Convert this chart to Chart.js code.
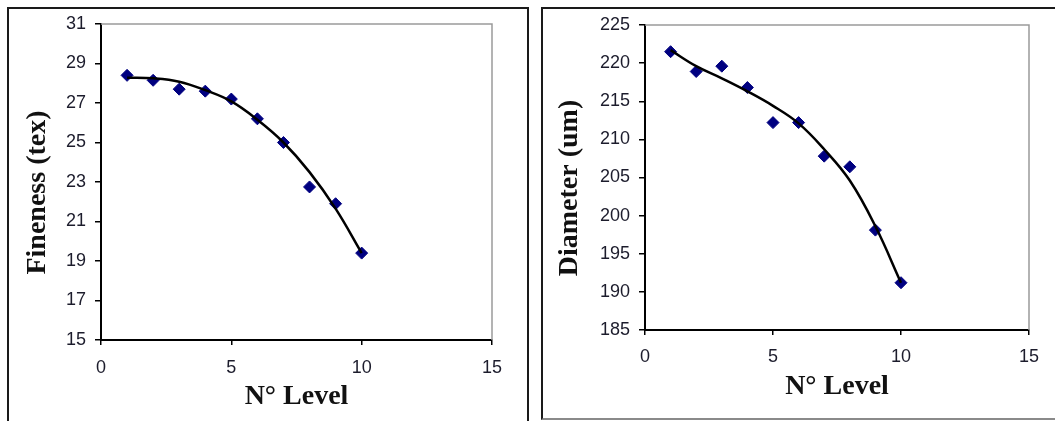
<!DOCTYPE html>
<html lang="en">
<head>
<meta charset="UTF-8">
<title>Fineness and Diameter by Level</title>
<script src="https://cdn.jsdelivr.net/npm/chart.js"></script>
<style>
  body { margin: 0; background: #fff; }
  .page { position: relative; width: 1055px; height: 421px; overflow: hidden; background: #fff; }
  .panel { position: absolute; border: 2px solid #1a1a1a; box-sizing: border-box; }
  #panelA { left: 7px; top: 7px; width: 522px; height: 440px; }
  #panelB { left: 541px; top: 7px; width: 540px; height: 413px; border-bottom-color: #8a8a8a; }
  canvas { position: absolute; top: 0; }
  #fineChart { left: 0; }
  #diamChart { left: 535px; }
</style>
</head>
<body>
<div class="page">
  <div class="panel" id="panelA"></div>
  <div class="panel" id="panelB"></div>
  <canvas id="fineChart" width="530" height="421"></canvas>
  <canvas id="diamChart" width="520" height="421"></canvas>
</div>

<script>
// N° level on the x axis
const levels = [1, 2, 3, 4, 5, 6, 7, 8, 9, 10];
const xTicks = [0, 5, 10, 15];

// left chart: fineness (tex)
const fineness      = [28.4, 28.15, 27.7, 27.6, 27.2, 26.2, 25.0, 22.75, 21.9, 19.4];
const finenessTrend = [28.28, 28.25, 28.08, 27.65, 27.08, 26.15, 25.0, 23.5, 21.65, 19.4];
const finenessTicks = [15, 17, 19, 21, 23, 25, 27, 29, 31];

// right chart: diameter (um)
const diameter      = [221.5, 218.9, 219.6, 216.8, 212.2, 212.2, 207.8, 206.4, 198.1, 191.2];
const diameterTrend = [221.7, 219.6, 218.0, 216.3, 214.4, 212.1, 208.7, 204.6, 198.6, 191.2];
const diameterTicks = [185, 190, 195, 200, 205, 210, 215, 220, 225];

const toPoints = ys => levels.map((x, i) => ({ x: x, y: ys[i] }));

// gray top/right edge of the plot area
const plotFrame = {
  id: 'plotFrame',
  beforeDatasetsDraw(chart) {
    const { ctx, chartArea: a } = chart;
    ctx.save();
    ctx.strokeStyle = '#9a9a9a';
    ctx.lineWidth = 1.5;
    ctx.beginPath();
    ctx.moveTo(a.left, a.top);
    ctx.lineTo(a.right, a.top);
    ctx.lineTo(a.right, a.bottom);
    ctx.stroke();
    ctx.restore();
  }
};

function makeChart(id, values, trend, yTicks, yTitle, box) {
  const tickFont = { family: '"Liberation Sans", Arial, sans-serif', size: 18 };
  const titleFont = { family: '"Liberation Serif", "Times New Roman", serif', size: 28, weight: 'bold' };

  return new Chart(document.getElementById(id), {
    type: 'scatter',
    data: {
      datasets: [
        {
          label: 'trend',
          data: toPoints(trend),
          showLine: true,
          borderColor: '#000',
          borderWidth: 2.5,
          pointRadius: 0,
          tension: 0.4
        },
        {
          label: yTitle,
          data: toPoints(values),
          pointStyle: 'rectRot',
          pointRadius: 6,
          backgroundColor: '#000080',
          borderColor: '#000080',
          borderWidth: 1
        }
      ]
    },
    options: {
      responsive: false,
      animation: false,
      layout: { padding: { top: box.top, right: box.right, left: 0, bottom: 0 } },
      plugins: { legend: { display: false }, tooltip: { enabled: false } },
      scales: {
        x: {
          type: 'linear',
          min: xTicks[0],
          max: xTicks[xTicks.length - 1],
          afterBuildTicks: s => { s.ticks = xTicks.map(v => ({ value: v })); },
          afterFit: s => { s.height = box.xHeight; },
          ticks: { font: tickFont, color: '#1c1c2c', padding: box.xTickPad, maxRotation: 0 },
          grid: { drawOnChartArea: false, tickLength: 5, color: '#000', lineWidth: 1.5 },
          border: { color: '#000', width: 2 },
          title: { display: true, text: 'N° Level', font: titleFont, color: '#111',
                   padding: { top: 0, bottom: box.xTitlePad } }
        },
        y: {
          type: 'linear',
          min: yTicks[0],
          max: yTicks[yTicks.length - 1],
          afterBuildTicks: s => { s.ticks = yTicks.map(v => ({ value: v })); },
          afterFit: s => { s.width = box.yWidth; },
          ticks: { font: tickFont, color: '#1c1c2c', padding: 9 },
          grid: { drawOnChartArea: false, tickLength: 6, color: '#000', lineWidth: 1.5 },
          border: { color: '#000', width: 2 },
          // trailing spaces nudge the rotated title a little lower, as in the original
          title: { display: true, text: yTitle + '   ', font: titleFont, color: '#111',
                   padding: { top: box.yTitlePad, bottom: 0 } }
        }
      }
    },
    plugins: [plotFrame]
  });
}

makeChart('fineChart', fineness, finenessTrend, finenessTicks, 'Fineness (tex)',
  { top: 24, right: 38, yWidth: 101, xHeight: 81, xTickPad: 12, xTitlePad: 7, yTitlePad: 21 });

makeChart('diamChart', diameter, diameterTrend, diameterTicks, 'Diameter (um)',
  { top: 25, right: 26, yWidth: 110, xHeight: 91, xTickPad: 11, xTitlePad: 17, yTitlePad: 18 });
</script>
</body>
</html>
